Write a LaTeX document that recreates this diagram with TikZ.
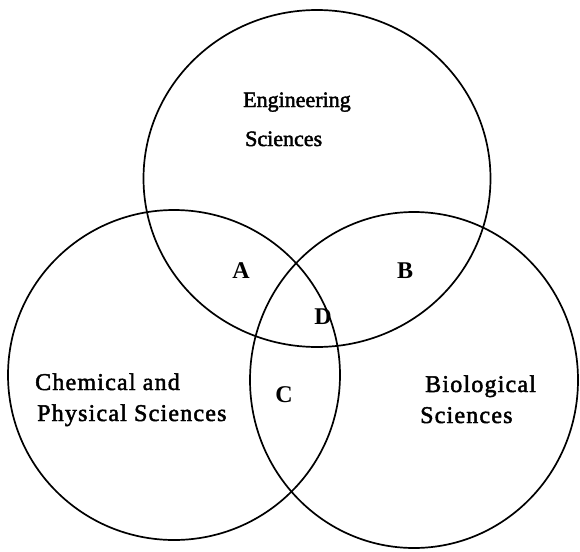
\documentclass[tikz,border=0pt]{standalone}
\usepackage{fontspec}
\setmainfont{Liberation Serif}
\newfontfamily\scanfont{Liberation Serif}[FakeBold=2]
\newfontfamily\scanwide{Liberation Serif}[FakeBold=2,LetterSpace=5]
\begin{document}
\begin{tikzpicture}[x=1pt,y=-1pt,
  ring/.style={line width=1.7pt},
  lbl/.style={font=\scanwide\fontsize{24}{26}\selectfont, inner sep=0pt, anchor=base west},
  toplbl/.style={lbl, font=\scanfont\fontsize{22}{24}\selectfont},
  letter/.style={font=\fontsize{24}{26}\selectfont\bfseries, inner sep=0pt, anchor=base}]
\useasboundingbox (0,0) rectangle (580,551);
\draw[ring] (317,178.5) ellipse [x radius=173.5, y radius=168.5];
\draw[ring] (174,375) ellipse [x radius=166, y radius=165];
\draw[ring] (414,380) ellipse [x radius=164, y radius=168];
\node[toplbl] (eng1) at (243,107) {Engineering};
\node[toplbl] (eng2) at (245,146) {Sciences};
\node[lbl] (chem1) at (35,390) {Chemical and};
\node[lbl] (chem2) at (37,421) {Physical Sciences};
\node[lbl] (bio1) at (425,392) {Biological};
\node[lbl] (bio2) at (420,423) {Sciences};
\node[letter] (A) at (241,278) {A};
\node[letter] (B) at (405,278) {B};
\node[letter] (D) at (323,324) {D};
\node[letter] (C) at (284,402) {C};
\end{tikzpicture}
\end{document}
